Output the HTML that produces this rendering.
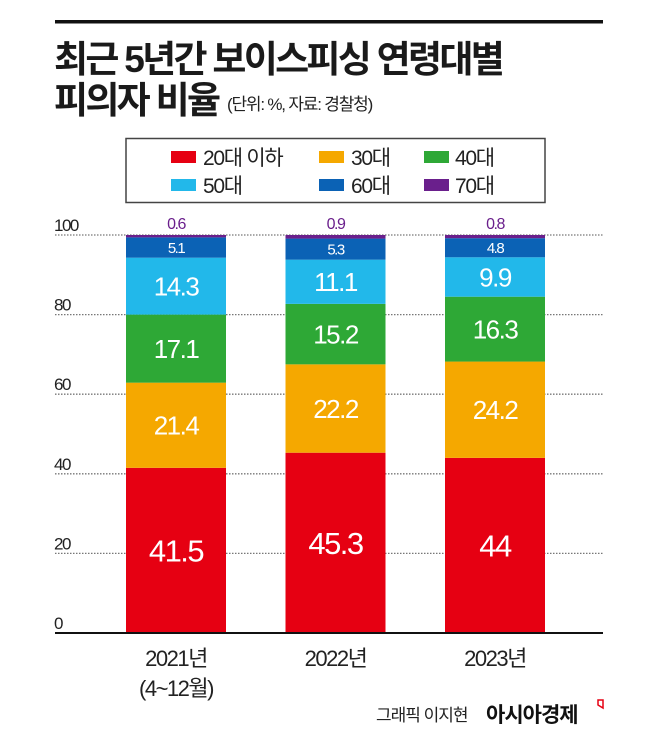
<!DOCTYPE html>
<html><head><meta charset="utf-8">
<style>
html,body{margin:0;padding:0;background:#fff;}
body{width:658px;height:747px;position:relative;overflow:hidden;font-family:"Liberation Sans","Noto Sans CJK KR",sans-serif;}
</style></head>
<body>
<svg id="chart" width="658" height="747" viewBox="0 0 658 747" xmlns="http://www.w3.org/2000/svg" font-family="'Liberation Sans','Noto Sans CJK KR',sans-serif">
  <rect x="55" y="20" width="548" height="3.5" fill="#111"/>
  <text x="54" y="72" font-size="37" font-weight="bold" fill="#1a1a1a" letter-spacing="-2.7">최근 5년간 보이스피싱 연령대별</text>
  <text x="54" y="113" font-size="37" font-weight="bold" fill="#1a1a1a" letter-spacing="-2.7">피의자 비율</text>
  <text x="227" y="110" font-size="17" fill="#222" letter-spacing="-1.2">(단위: %, 자료: 경찰청)</text>
  <rect x="126" y="138.5" width="419" height="64" fill="#fff" stroke="#444" stroke-width="1.5"/>
  <g id="legend"></g>
  <g id="grid"></g>
  <g id="bars"></g>
  <line x1="55" y1="633" x2="603" y2="633" stroke="#111" stroke-width="2"/>
  <g id="xlabels"></g>
  <text x="376" y="721" font-size="17" fill="#222" letter-spacing="-1">그래픽 이지현</text>
  <text x="486" y="722" font-size="21" font-weight="bold" fill="#111" letter-spacing="-1">아시아경제</text>
  <path d="M598 700 h5 v8 l-5 -3 z" fill="none" stroke="#e60012" stroke-width="1.5"/>
</svg>
<script>
const categories = ["2021년", "2022년", "2023년"];
const subLabels = ["(4~12월)", "", ""];
const seriesNames = ["20대 이하", "30대", "40대", "50대", "60대", "70대"];
const s20 = [41.5, 45.3, 44];
const s30 = [21.4, 22.2, 24.2];
const s40 = [17.1, 15.2, 16.3];
const s50 = [14.3, 11.1, 9.9];
const s60 = [5.1, 5.3, 4.8];
const s70 = [0.6, 0.9, 0.8];
const yTicks = [0, 20, 40, 60, 80, 100];

const series = [s20, s30, s40, s50, s60, s70];
const colors = ["#e60012", "#f5a800", "#2ea836", "#22b8ea", "#0b62b5", "#6a1f8c"];
const NS = "http://www.w3.org/2000/svg";
const y0 = 633, y100 = 235;
function yScale(v){ return y0 - (y0 - y100) * v / 100; }
const barLeft0 = 126, barStep = 159.5, barW = 100;
function xScale(i){ return barLeft0 + i * barStep; }
function mk(tag, attrs, parent){ const e = document.createElementNS(NS, tag); for (const k in attrs) e.setAttribute(k, attrs[k]); parent.appendChild(e); return e; }

const lg = document.getElementById('legend');
const lx = [171, 319, 424], ly = [157, 185], tx = [203, 351, 455];
seriesNames.forEach((n, i) => {
  const c = i % 3, r = Math.floor(i / 3);
  const sw = mk('rect', {x: lx[c], y: ly[r] - 6, width: 25, height: 12, fill: colors[i]}, lg);
  
  
  const t = mk('text', {x: tx[c], y: ly[r] + 8, 'font-size': 21, fill: '#222', 'letter-spacing': -1.3}, lg);
  t.textContent = n;
  
  
});

const gg = document.getElementById('grid');
yTicks.forEach(v => {
  const y = yScale(v);
  if (v > 0) {
    const l = mk('line', {x1: 55, x2: 603, y1: y, y2: y, stroke: '#777', 'stroke-width': 1.3, 'stroke-dasharray': '1.5 1.5'}, gg);
    
    
  }
  const t = mk('text', {x: 54, y: y - 4, 'font-size': 17, fill: '#222', 'letter-spacing': -1.5}, gg);
  t.textContent = v;
  
  
});

const bg = document.getElementById('bars');
const fs = [31, 26, 26, 26, 15];
categories.forEach((cat, i) => {
  let cum = 0;
  const x = xScale(i);
  series.forEach((s, k) => {
    const v = s[i];
    const yt = yScale(cum + v), yb = yScale(cum);
    const r = mk('rect', {x: x, y: yt, width: barW, height: yb - yt, fill: colors[k]}, bg);
    
    
    const t = mk('text', {'text-anchor': 'middle', 'letter-spacing': -1.5}, bg);
    t.textContent = v;
    if (k < 5) {
      t.setAttribute('x', x + barW / 2);
      t.setAttribute('y', (yt + yb) / 2 + fs[k] * 0.36);
      t.setAttribute('font-size', fs[k]);
      t.setAttribute('fill', '#fff');
    } else {
      t.setAttribute('x', x + barW / 2);
      t.setAttribute('y', yt - 6);
      t.setAttribute('font-size', 16);
      t.setAttribute('fill', '#6a1f8c');
    }
    
    
    cum += v;
  });
});

const xg = document.getElementById('xlabels');
categories.forEach((c, i) => {
  const cx = xScale(i) + barW / 2;
  const t = mk('text', {x: cx, y: 666, 'font-size': 22, fill: '#222', 'text-anchor': 'middle', 'letter-spacing': -1.5}, xg);
  t.textContent = c;
  
  
  if (subLabels[i]) {
    const s = mk('text', {x: cx, y: 696, 'font-size': 22, fill: '#222', 'text-anchor': 'middle', 'letter-spacing': -1.5}, xg);
    s.textContent = subLabels[i];
    
    
  }
});
</script>
</body></html>
